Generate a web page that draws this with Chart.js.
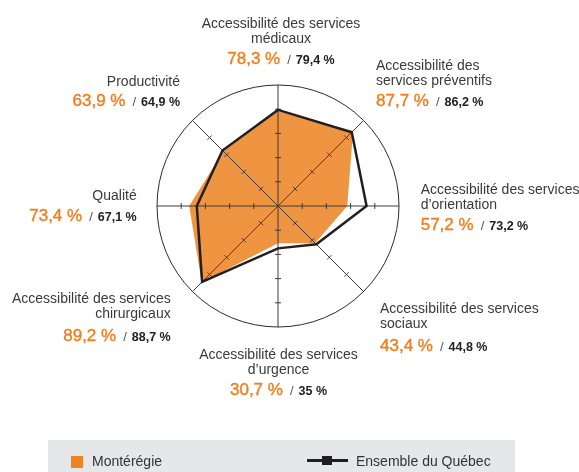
<!DOCTYPE html>
<html lang="fr">
<head>
<meta charset="utf-8">
<script src="https://cdn.jsdelivr.net/npm/chart.js@4/dist/chart.umd.min.js"></script>
<style>
  html, body { margin: 0; padding: 0; background: #fff; }
  body { width: 579px; height: 472px; position: relative; overflow: hidden;
         font-family: "Liberation Sans", Arial, Helvetica, sans-serif; }
  #wrap { position: absolute; left: 0; top: 0; width: 579px; height: 472px; }
  .lbl { position: absolute; color: #3a3a3a; font-size: 14px; white-space: nowrap; }
  .lbl .ln { line-height: 15px; height: 15px; }
  .lbl .vals { font-size: 17px; line-height: 22px; height: 22px; }
  .o { color: #EF7F1F; -webkit-text-stroke: 0.4px #EF7F1F; }
  .s { color: #555; font-size: 13px; margin: 0 5px 0 7px; }
  .k { color: #222; font-size: 12.5px; font-weight: bold; }
  #legend { position: absolute; left: 48px; top: 440px; width: 467px; height: 40px; background: #E6E7E8; }
  .leg-item { position: absolute; font-size: 14px; color: #333; line-height: 16px; white-space: nowrap; }
  .sq { position: absolute; left: 71px; top: 456px; width: 12px; height: 12px; background: #EF8320; }
  .ln-sym { position: absolute; left: 307px; top: 459px; width: 41px; height: 2.5px; background: #231F20; }
  .ln-sq { position: absolute; left: 322px; top: 455.5px; width: 10px; height: 9px; background: #231F20; }
</style>
</head>
<body>
<div id="legend"></div>
<div class="sq"></div>
<div class="ln-sym"></div>
<div class="ln-sq"></div>
<div id="wrap"><canvas id="c" width="579" height="472"></canvas></div>
<div id="labels"></div>
<script>
// ---- data ----
const categories = [
  ["Accessibilité des services", "médicaux"],
  ["Accessibilité des", "services préventifs"],
  ["Accessibilité des services", "d’orientation"],
  ["Accessibilité des services", "sociaux"],
  ["Accessibilité des services", "d’urgence"],
  ["Accessibilité des services", "chirurgicaux"],
  ["Qualité"],
  ["Productivité"]
];
const seriesNames = ["Montérégie", "Ensemble du Québec"];
const monteregie = [78.3, 87.7, 57.2, 43.4, 30.7, 89.2, 73.4, 63.9];
const quebec = [79.4, 86.2, 73.2, 44.8, 35, 88.7, 67.1, 64.9];
const tickValues = [20, 40, 60, 80];
const scaleMax = 100;

// ---- label layout (positions only) ----
const labelLayout = [
  { x: 281,   align: "center", b1: 28.3,  bv: 65 },
  { x: 376,   align: "left",   b1: 70.7,  bv: 106.7 },
  { x: 420.7, align: "left",   b1: 194,   bv: 231 },
  { x: 380,   align: "left",   b1: 313.3, bv: 351.7 },
  { x: 278.5, align: "center", b1: 359,   bv: 396 },
  { x: 170.7, align: "right",  b1: 303.3, bv: 341.7 },
  { x: 136.7, align: "right",  b1: 200,   bv: 222 },
  { x: 180,   align: "right",  b1: 86.7,  bv: 106.7 }
];

function fmt(v) {
  const s = Number.isInteger(v) ? String(v) : v.toFixed(1).replace(".", ",");
  return s + "\u00a0%";
}

const labelsEl = document.getElementById("labels");
categories.forEach((lines, i) => {
  const L = labelLayout[i];
  const d = document.createElement("div");
  d.className = "lbl";
  d.style.top = (L.b1 - 12.35) + "px";
  d.style.textAlign = L.align;
  if (L.align === "left") d.style.left = L.x + "px";
  else if (L.align === "right") d.style.right = (579 - L.x) + "px";
  else { d.style.left = (L.x - 120) + "px"; d.style.width = "240px"; }
  lines.forEach(t => {
    const ln = document.createElement("div");
    ln.className = "ln";
    ln.textContent = t;
    d.appendChild(ln);
  });
  const v = document.createElement("div");
  v.className = "vals";
  v.style.marginTop = ((L.bv - L.b1) - lines.length * 15 - 4.55) + "px";
  v.innerHTML = '<span class="o">' + fmt(monteregie[i]) + '</span><span class="s">/</span><span class="k">' + fmt(quebec[i]) + '</span>';
  d.appendChild(v);
  labelsEl.appendChild(d);
});

// legend texts
const leg1 = document.createElement("div");
leg1.className = "leg-item"; leg1.style.left = "92px"; leg1.style.top = "452.5px";
leg1.textContent = seriesNames[0];
document.body.appendChild(leg1);
const leg2 = document.createElement("div");
leg2.className = "leg-item"; leg2.style.left = "356px"; leg2.style.top = "452.5px";
leg2.textContent = seriesNames[1];
document.body.appendChild(leg2);

// ---- axes / ticks plugin (drawn over the orange fill, under the black line) ----
const axesPlugin = {
  id: "axesOverFill",
  afterDatasetDraw(chart, args) {
    if (args.index !== 0) return;
    const r = chart.scales.r;
    const ctx = chart.ctx;
    ctx.save();
    ctx.strokeStyle = "#2b2b2b";
    ctx.lineWidth = 1;
    ctx.beginPath();
    ctx.arc(r.xCenter, r.yCenter, r.getDistanceFromCenterForValue(scaleMax), 0, Math.PI * 2);
    ctx.stroke();
    ctx.strokeStyle = "#3d3d3d";
    for (let i = 0; i < categories.length; i++) {
      const end = r.getPointPositionForValue(i, scaleMax);
      ctx.beginPath();
      ctx.moveTo(r.xCenter, r.yCenter);
      ctx.lineTo(end.x, end.y);
      ctx.stroke();
      const ang = r.getIndexAngle(i) - Math.PI / 2;
      const px = -Math.sin(ang), py = Math.cos(ang);
      tickValues.forEach(tv => {
        const p = r.getPointPositionForValue(i, tv);
        ctx.beginPath();
        ctx.moveTo(p.x - px * 3, p.y - py * 3);
        ctx.lineTo(p.x + px * 3, p.y + py * 3);
        ctx.stroke();
      });
    }
    ctx.restore();
  }
};

new Chart(document.getElementById("c"), {
  type: "radar",
  data: {
    labels: categories,
    datasets: [
      {
        label: seriesNames[0],
        data: monteregie,
        backgroundColor: "#EF9441",
        borderWidth: 0,
        borderColor: "rgba(0,0,0,0)",
        fill: "origin",
        pointRadius: 0,
        order: 1
      },
      {
        label: seriesNames[1],
        data: quebec,
        borderColor: "#231F20",
        borderWidth: 2.5,
        borderJoinStyle: "miter",
        backgroundColor: "rgba(0,0,0,0)",
        fill: false,
        pointRadius: 0,
        order: 0
      }
    ]
  },
  options: {
    responsive: false,
    devicePixelRatio: 1,
    animation: false,
    layout: { padding: { left: 157, right: 180, top: 85, bottom: 145 } },
    plugins: { legend: { display: false }, tooltip: { enabled: false } },
    scales: {
      r: {
        min: 0,
        max: scaleMax,
        ticks: { display: false, stepSize: 20 },
        grid: { display: false },
        angleLines: { display: false },
        pointLabels: { display: false }
      }
    }
  },
  plugins: [axesPlugin]
});
</script>
</body>
</html>
